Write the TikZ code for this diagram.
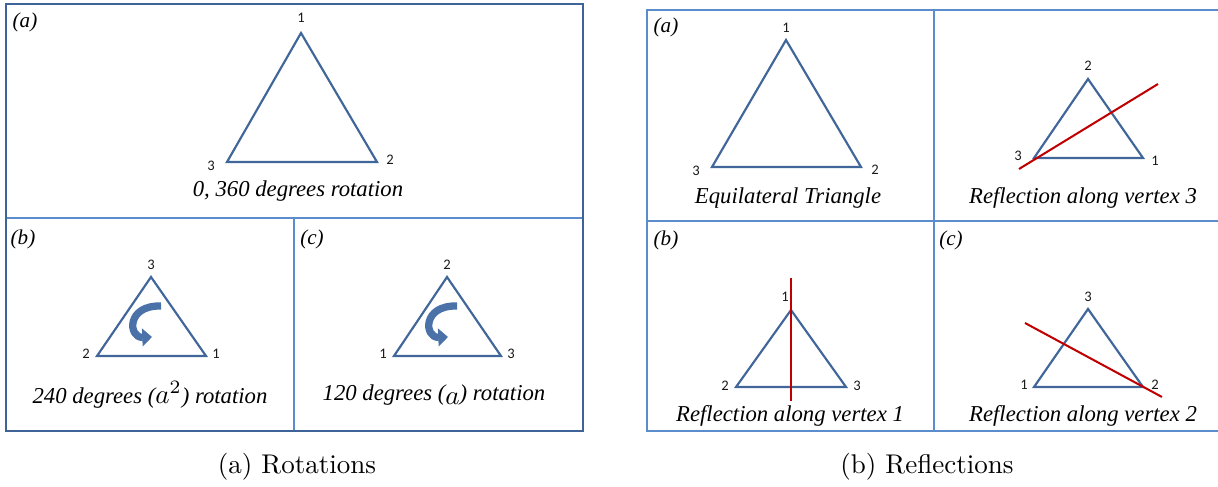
\documentclass[tikz,border=0pt]{standalone}
\usepackage{fontspec}
\newfontfamily\capfont{Liberation Serif}
\newfontfamily\numfont{Carlito}
\usepackage{tikz}
\usetikzlibrary{arrows.meta}

\definecolor{triblue}{HTML}{41669A}
\definecolor{frameblue}{HTML}{3E6399}
\definecolor{gridblue}{HTML}{5B8CCB}
\definecolor{mirrorred}{HTML}{C00000}
\definecolor{turnblue}{HTML}{4A72A8}

\begin{document}
\begin{tikzpicture}[x=0.013cm, y=-0.013cm,
    tri/.style={draw=triblue, line width=0.8pt},
    vnum/.style={font=\numfont\fontsize{5.4}{6}\selectfont, text=black!90, inner sep=0pt},
    captext/.style={font=\capfont\itshape\fontsize{8.4}{10}\selectfont, inner sep=0pt},
    tag/.style={font=\capfont\itshape\fontsize{7.8}{9}\selectfont, inner sep=0pt},
    mirror/.style={draw=mirrorred, line width=0.75pt},
    turn/.style={draw=turnblue, line width=2.7pt, -{Triangle[length=3.6pt, width=6.5pt]}},
    sub/.style={font=\fontsize{10}{12}\selectfont, inner sep=0pt}]

    \useasboundingbox (0,0) rectangle (1218,487);

    % Frames
    \draw[gridblue, line width=0.7pt] (294,218) -- (294,431) (6,218) -- (583,218);
    \draw[frameblue, line width=0.9pt] (6,4) rectangle (583,431);
    \draw[gridblue, line width=0.7pt] (934,10) -- (934,431) (647,221) -- (1218,221);
    \draw[gridblue, line width=0.9pt] (1218,10) -- (647,10) -- (647,431) -- (1218,431);

    % Rotations (a)
    \coordinate (ra1) at (301,33);
    \coordinate (ra2) at (377,162);
    \coordinate (ra3) at (227,162);
    \draw[tri] (ra1) -- (ra2) -- (ra3) -- cycle;
    \node[vnum] (na1) at (301,18) {1};
    \node[vnum] (na2) at (390,160) {2};
    \node[vnum] (na3) at (211,166) {3};
    \node[tag] (tra) at (25,22) {(a)};
    \node[captext] (cra) at (298,191) {0, 360 degrees rotation};

    % Rotations (b)
    \coordinate (rb3) at (151,277);
    \coordinate (rb1) at (206,356);
    \coordinate (rb2) at (97,356);
    \draw[tri] (rb3) -- (rb1) -- (rb2) -- cycle;
    \node[vnum] (nb3) at (151,265) {3};
    \node[vnum] (nb2) at (86,354) {2};
    \node[vnum] (nb1) at (216,354) {1};
    \draw[turn] (161,306) .. controls (126,305) and (128,338) .. (152,337);
    \node[tag] (trb) at (23,239) {(b)};
    \node[captext] (crb) at (150,395) {240 degrees ({\fontsize{9.6}{10}\selectfont$a^{2}$}) rotation};

    % Rotations (c)
    \coordinate (rc2) at (447,277);
    \coordinate (rc3) at (501,356);
    \coordinate (rc1) at (394,356);
    \draw[tri] (rc2) -- (rc3) -- (rc1) -- cycle;
    \node[vnum] (nc2) at (447,265) {2};
    \node[vnum] (nc1) at (383,354) {1};
    \node[vnum] (nc3) at (511,354) {3};
    \draw[turn] (457,306) .. controls (422,305) and (424,338) .. (448,337);
    \node[tag] (trc) at (312,239) {(c)};
    \node[captext] (crc) at (434,395) {120 degrees (\raisebox{-1.5pt}{\fontsize{9.6}{10}\selectfont$a$}) rotation};

    % Reflections (a)
    \coordinate (fa1) at (786,40);
    \coordinate (fa2) at (861,167);
    \coordinate (fa3) at (712,167);
    \draw[tri] (fa1) -- (fa2) -- (fa3) -- cycle;
    \node[vnum] (ma1) at (786,28) {1};
    \node[vnum] (ma3) at (696,171) {3};
    \node[vnum] (ma2) at (875,170) {2};
    \node[tag] (tfa) at (666,27) {(a)};
    \node[captext] (cfa) at (788,198) {Equilateral Triangle};

    % Reflection along vertex 3
    \coordinate (fd2) at (1088,79);
    \coordinate (fd1) at (1143,158);
    \coordinate (fd3) at (1034,158);
    \draw[tri] (fd2) -- (fd1) -- (fd3) -- cycle;
    \node[vnum] (md2) at (1088,66) {2};
    \node[vnum] (md3) at (1018,156) {3};
    \node[vnum] (md1) at (1155,161) {1};
    \coordinate (ld1) at (1019,169);
    \coordinate (ld2) at (1158,84);
    \draw[mirror] (ld1) -- (ld2);
    \node[captext] (cfd) at (1083,198) {Reflection along vertex 3};

    % Reflections (b)
    \coordinate (fb1) at (791,310);
    \coordinate (fb2) at (736,387);
    \coordinate (fb3) at (846,387);
    \draw[tri] (fb1) -- (fb3) -- (fb2) -- cycle;
    \node[vnum] (mb1) at (785,297) {1};
    \node[vnum] (mb2) at (725,386) {2};
    \node[vnum] (mb3) at (857,386) {3};
    \coordinate (lb1) at (791,278);
    \coordinate (lb2) at (791,401);
    \draw[mirror] (lb1) -- (lb2);
    \node[tag] (tfb) at (666,240) {(b)};
    \node[captext] (cfb) at (790,416) {Reflection along vertex 1};

    % Reflections (c)
    \coordinate (fc3) at (1088,309);
    \coordinate (fc1) at (1034,387);
    \coordinate (fc2) at (1143,387);
    \draw[tri] (fc3) -- (fc2) -- (fc1) -- cycle;
    \node[vnum] (mc3) at (1088,297) {3};
    \node[vnum] (mc1) at (1024,385) {1};
    \node[vnum] (mc2) at (1155,385) {2};
    \coordinate (lc1) at (1025,323);
    \coordinate (lc2) at (1162,397);
    \draw[mirror] (lc1) -- (lc2);
    \node[tag] (tfc) at (951,240) {(c)};
    \node[captext] (cfc) at (1083,416) {Reflection along vertex 2};

    % Sub captions
    \node[sub] (sa) at (297,467) {(a) Rotations};
    \node[sub] (sb) at (927,467) {(b) Reflections};
\end{tikzpicture}
\end{document}
